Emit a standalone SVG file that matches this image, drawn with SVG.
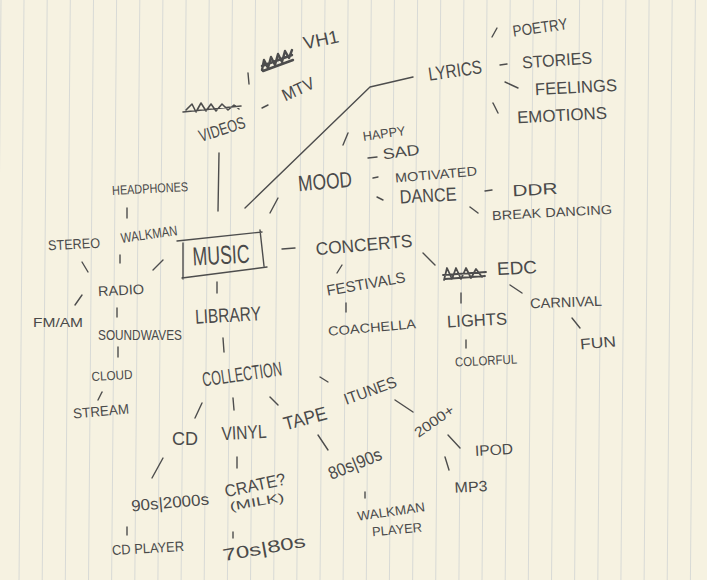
<svg xmlns="http://www.w3.org/2000/svg" width="707" height="582" viewBox="0 0 707 582">
<style>
.t{font-family:"Liberation Sans","DejaVu Sans",sans-serif;fill:#4a4a4a;text-anchor:middle}
.c{stroke:#4d4d4d;stroke-width:1.4;fill:none;stroke-linecap:round;stroke-linejoin:round}
.rule{stroke:#d8dad6;stroke-width:1;fill:none}
</style>
<rect width="707" height="582" fill="#f6f2e1"/>
<path class="rule" d="M1 0L-4 582M24 0L19 582M47.2 0L42.2 582M70.3 0L65.3 582M93.5 0L88.5 582M116.6 0L111.6 582M139.8 0L134.8 582M162.9 0L157.9 582M186.1 0L181.1 582M209.2 0L204.2 582M232.4 0L227.4 582M255.5 0L250.5 582M278.7 0L273.7 582M301.8 0L296.8 582M325 0L320 582M348.1 0L343.1 582M371.3 0L366.3 582M394.4 0L389.4 582M417.6 0L412.6 582M440.7 0L435.7 582M463.9 0L458.9 582M487 0L482 582M510.2 0L505.2 582M533.3 0L528.3 582M556.5 0L551.5 582M579.6 0L574.6 582M602.8 0L597.8 582M625.9 0L620.9 582M649.1 0L644.1 582M672.2 0L667.2 582M695.4 0L690.4 582"/>
<rect x="0" y="580" width="707" height="2" fill="#ffffff"/>

<g id="connectors" class="c">
<path d="M248 73L249 84"/>
<path d="M492 37L497 28"/>
<path d="M500 65L507 64"/>
<path d="M505 82L518 88"/>
<path d="M493 103L498 113"/>
<path d="M262 108L268 105"/>
<path d="M343 145L348 133"/>
<path d="M368 158L377 157"/>
<path d="M373 178L378 177"/>
<path d="M377 197L383 200"/>
<path d="M485 191L492 190"/>
<path d="M470 207L478 213"/>
<path d="M219 153L218 211"/>
<path d="M245 208L370 87L413 77"/>
<path d="M270 213L278 198"/>
<path d="M127 208L127 218"/>
<path d="M120 255L120 263"/>
<path d="M82 262L88 272"/>
<path d="M153 270L163 260"/>
<path d="M75 305L82 295"/>
<path d="M117 308L117 317"/>
<path d="M118 347L118 357"/>
<path d="M98 400L102 392"/>
<path d="M217 282L217 293"/>
<path d="M223 338L224 352"/>
<path d="M195 418L202 403"/>
<path d="M233 398L234 410"/>
<path d="M270 397L278 405"/>
<path d="M320 377L328 382"/>
<path d="M282 249L295 248"/>
<path d="M423 253L435 265"/>
<path d="M337 273L342 265"/>
<path d="M346 303L346 312"/>
<path d="M510 285L522 293"/>
<path d="M461 293L461 303"/>
<path d="M466 340L466 348"/>
<path d="M572 318L580 328"/>
<path d="M395 400L413 412"/>
<path d="M318 435L328 450"/>
<path d="M448 435L460 448"/>
<path d="M152 478L163 458"/>
<path d="M237 457L237 468"/>
<path d="M445 457L449 470"/>
<path d="M365 492L365 498"/>
<path d="M127 527L127 535"/>
<path d="M233 532L233 538"/>
</g>

<g id="scribbles" class="c">
<path d="M262 70L264 60L268 68L271 57L275 65L278 54L282 62L285 51L289 58L292 50M262 66L292 55M263 71L293 60" stroke-width="2.4"/>
<path d="M186 110L192 104L196 112L201 103L206 111L211 104L216 111L222 104L228 110L234 105L239 109M183 112L241 106" stroke-width="1.6"/>
<path d="M444 280L447 268L452 279L456 268L461 279L466 268L471 278L476 269L482 277M443 275L486 272M445 279L485 276" stroke-width="1.8"/>
</g>

<g id="music"><path class="c" d="M177 241L262 232M260 230L264 266M182 278L267 267M183 243L183 279" stroke-width="1.8"/>
<text class="t" x="221" y="264" font-size="26" textLength="57" lengthAdjust="spacingAndGlyphs" transform="rotate(-3 221 255)">MUSIC</text></g>
<g id="vh1"><text class="t" x="321" y="46" font-size="18" textLength="36" lengthAdjust="spacingAndGlyphs" transform="rotate(-12 321 40)">VH1</text></g>
<g id="poetry"><text class="t" x="540" y="33" font-size="16" textLength="55" lengthAdjust="spacingAndGlyphs" transform="rotate(-8 540 27)">POETRY</text></g>
<g id="lyrics"><text class="t" x="455" y="77" font-size="19" textLength="54" lengthAdjust="spacingAndGlyphs" transform="rotate(-8 455 70)">LYRICS</text></g>
<g id="stories"><text class="t" x="557" y="66" font-size="17" textLength="70" lengthAdjust="spacingAndGlyphs" transform="rotate(-4 557 60)">STORIES</text></g>
<g id="feelings"><text class="t" x="576" y="93" font-size="17" textLength="82" lengthAdjust="spacingAndGlyphs" transform="rotate(-3 576 87)">FEELINGS</text></g>
<g id="emotions"><text class="t" x="562" y="121" font-size="17" textLength="90" lengthAdjust="spacingAndGlyphs" transform="rotate(-3 562 115)">EMOTIONS</text></g>
<g id="mtv"><text class="t" x="298" y="95" font-size="17" textLength="34" lengthAdjust="spacingAndGlyphs" transform="rotate(-25 298 89)">MTV</text></g>
<g id="videos"><text class="t" x="222" y="135" font-size="17" textLength="48" lengthAdjust="spacingAndGlyphs" transform="rotate(-18 222 129)">VIDEOS</text></g>
<g id="happy"><text class="t" x="384" y="138" font-size="13" textLength="43" lengthAdjust="spacingAndGlyphs" transform="rotate(-8 384 133)">HAPPY</text></g>
<g id="sad"><text class="t" x="401" y="157" font-size="15" textLength="37" lengthAdjust="spacingAndGlyphs" transform="rotate(-8 401 152)">SAD</text></g>
<g id="mood"><text class="t" x="325" y="189" font-size="22" textLength="54" lengthAdjust="spacingAndGlyphs" transform="rotate(-5 325 181)">MOOD</text></g>
<g id="motivated"><text class="t" x="436" y="179" font-size="13" textLength="82" lengthAdjust="spacingAndGlyphs" transform="rotate(-5 436 174)">MOTIVATED</text></g>
<g id="dance"><text class="t" x="428" y="202" font-size="19" textLength="57" lengthAdjust="spacingAndGlyphs" transform="rotate(-3 428 195)">DANCE</text></g>
<g id="ddr"><text class="t" x="535" y="195" font-size="16" textLength="45" lengthAdjust="spacingAndGlyphs" transform="rotate(-3 535 189)">DDR</text></g>
<g id="breakdancing"><text class="t" x="552" y="217" font-size="13" textLength="120" lengthAdjust="spacingAndGlyphs" transform="rotate(-3 552 212)">BREAK DANCING</text></g>
<g id="headphones"><text class="t" x="150" y="193" font-size="13" textLength="76" lengthAdjust="spacingAndGlyphs" transform="rotate(-3 150 188)">HEADPHONES</text></g>
<g id="walkman"><text class="t" x="149" y="239" font-size="14" textLength="57" lengthAdjust="spacingAndGlyphs" transform="rotate(-8 149 234)">WALKMAN</text></g>
<g id="stereo"><text class="t" x="74" y="249" font-size="14" textLength="52" lengthAdjust="spacingAndGlyphs" transform="rotate(-3 74 244)">STEREO</text></g>
<g id="concerts"><text class="t" x="364" y="251" font-size="18" textLength="97" lengthAdjust="spacingAndGlyphs" transform="rotate(-5 364 245)">CONCERTS</text></g>
<g id="radio"><text class="t" x="121" y="295" font-size="14" textLength="46" lengthAdjust="spacingAndGlyphs" transform="rotate(-3 121 290)">RADIO</text></g>
<g id="fmam"><text class="t" x="58" y="327" font-size="13" textLength="50" lengthAdjust="spacingAndGlyphs">FM/AM</text></g>
<g id="soundwaves"><text class="t" x="140" y="340" font-size="14" textLength="84" lengthAdjust="spacingAndGlyphs">SOUNDWAVES</text></g>
<g id="cloud"><text class="t" x="112" y="380" font-size="13" textLength="41" lengthAdjust="spacingAndGlyphs" transform="rotate(-3 112 375)">CLOUD</text></g>
<g id="stream"><text class="t" x="101" y="416" font-size="14" textLength="56" lengthAdjust="spacingAndGlyphs" transform="rotate(-5 101 411)">STREAM</text></g>
<g id="library"><text class="t" x="228" y="322" font-size="20" textLength="66" lengthAdjust="spacingAndGlyphs" transform="rotate(-3 228 315)">LIBRARY</text></g>
<g id="collection"><text class="t" x="242" y="381" font-size="20" textLength="80" lengthAdjust="spacingAndGlyphs" transform="rotate(-8 242 374)">COLLECTION</text></g>
<g id="festivals"><text class="t" x="366" y="289" font-size="15" textLength="80" lengthAdjust="spacingAndGlyphs" transform="rotate(-10 366 284)">FESTIVALS</text></g>
<g id="coachella"><text class="t" x="372" y="332" font-size="13" textLength="88" lengthAdjust="spacingAndGlyphs" transform="rotate(-5 372 327)">COACHELLA</text></g>
<g id="edc"><text class="t" x="517" y="274" font-size="18" textLength="40" lengthAdjust="spacingAndGlyphs" transform="rotate(-3 517 268)">EDC</text></g>
<g id="carnival"><text class="t" x="566" y="307" font-size="14" textLength="72" lengthAdjust="spacingAndGlyphs" transform="rotate(-2 566 302)">CARNIVAL</text></g>
<g id="lights"><text class="t" x="477" y="326" font-size="17" textLength="60" lengthAdjust="spacingAndGlyphs" transform="rotate(-3 477 320)">LIGHTS</text></g>
<g id="colorful"><text class="t" x="486" y="365" font-size="13" textLength="62" lengthAdjust="spacingAndGlyphs" transform="rotate(-3 486 360)">COLORFUL</text></g>
<g id="fun"><text class="t" x="598" y="348" font-size="15" textLength="36" lengthAdjust="spacingAndGlyphs" transform="rotate(-5 598 343)">FUN</text></g>
<g id="itunes"><text class="t" x="370" y="396" font-size="16" textLength="55" lengthAdjust="spacingAndGlyphs" transform="rotate(-20 370 390)">ITUNES</text></g>
<g id="tape"><text class="t" x="305" y="425" font-size="19" textLength="44" lengthAdjust="spacingAndGlyphs" transform="rotate(-15 305 418)">TAPE</text></g>
<g id="vinyl"><text class="t" x="244" y="439" font-size="19" textLength="45" lengthAdjust="spacingAndGlyphs" transform="rotate(-3 244 432)">VINYL</text></g>
<g id="cd"><text class="t" x="185" y="445" font-size="19" textLength="26" lengthAdjust="spacingAndGlyphs">CD</text></g>
<g id="y2000"><text class="t" x="434" y="426" font-size="14" textLength="45" lengthAdjust="spacingAndGlyphs" transform="rotate(-35 434 421)">2000+</text></g>
<g id="ipod"><text class="t" x="494" y="455" font-size="15" textLength="38" lengthAdjust="spacingAndGlyphs" transform="rotate(-3 494 450)">IPOD</text></g>
<g id="y8090"><text class="t" x="355" y="470" font-size="18" textLength="56" lengthAdjust="spacingAndGlyphs" transform="rotate(-22 355 464)">80s|90s</text></g>
<g id="mp3"><text class="t" x="471" y="492" font-size="15" textLength="33" lengthAdjust="spacingAndGlyphs" transform="rotate(-3 471 487)">MP3</text></g>
<g id="y902000"><text class="t" x="170" y="508" font-size="16" textLength="78" lengthAdjust="spacingAndGlyphs" transform="rotate(-5 170 502)">90s|2000s</text></g>
<g id="crate"><text class="t" x="255" y="491" font-size="17" textLength="62" lengthAdjust="spacingAndGlyphs" transform="rotate(-12 255 485)">CRATE?</text>
<text class="t" x="257" y="506" font-size="12" textLength="55" lengthAdjust="spacingAndGlyphs" transform="rotate(-10 257 502)">(MILK)</text></g>
<g id="walkmanplayer"><text class="t" x="391" y="516" font-size="13" textLength="68" lengthAdjust="spacingAndGlyphs" transform="rotate(-8 391 511)">WALKMAN</text>
<text class="t" x="397" y="534" font-size="13" textLength="50" lengthAdjust="spacingAndGlyphs" transform="rotate(-5 397 529)">PLAYER</text></g>
<g id="cdplayer"><text class="t" x="148" y="553" font-size="14" textLength="72" lengthAdjust="spacingAndGlyphs" transform="rotate(-3 148 548)">CD PLAYER</text></g>
<g id="y7080"><text class="t" x="264" y="554" font-size="17" textLength="84" lengthAdjust="spacingAndGlyphs" transform="rotate(-10 264 548)">70s|80s</text></g>
</svg>
